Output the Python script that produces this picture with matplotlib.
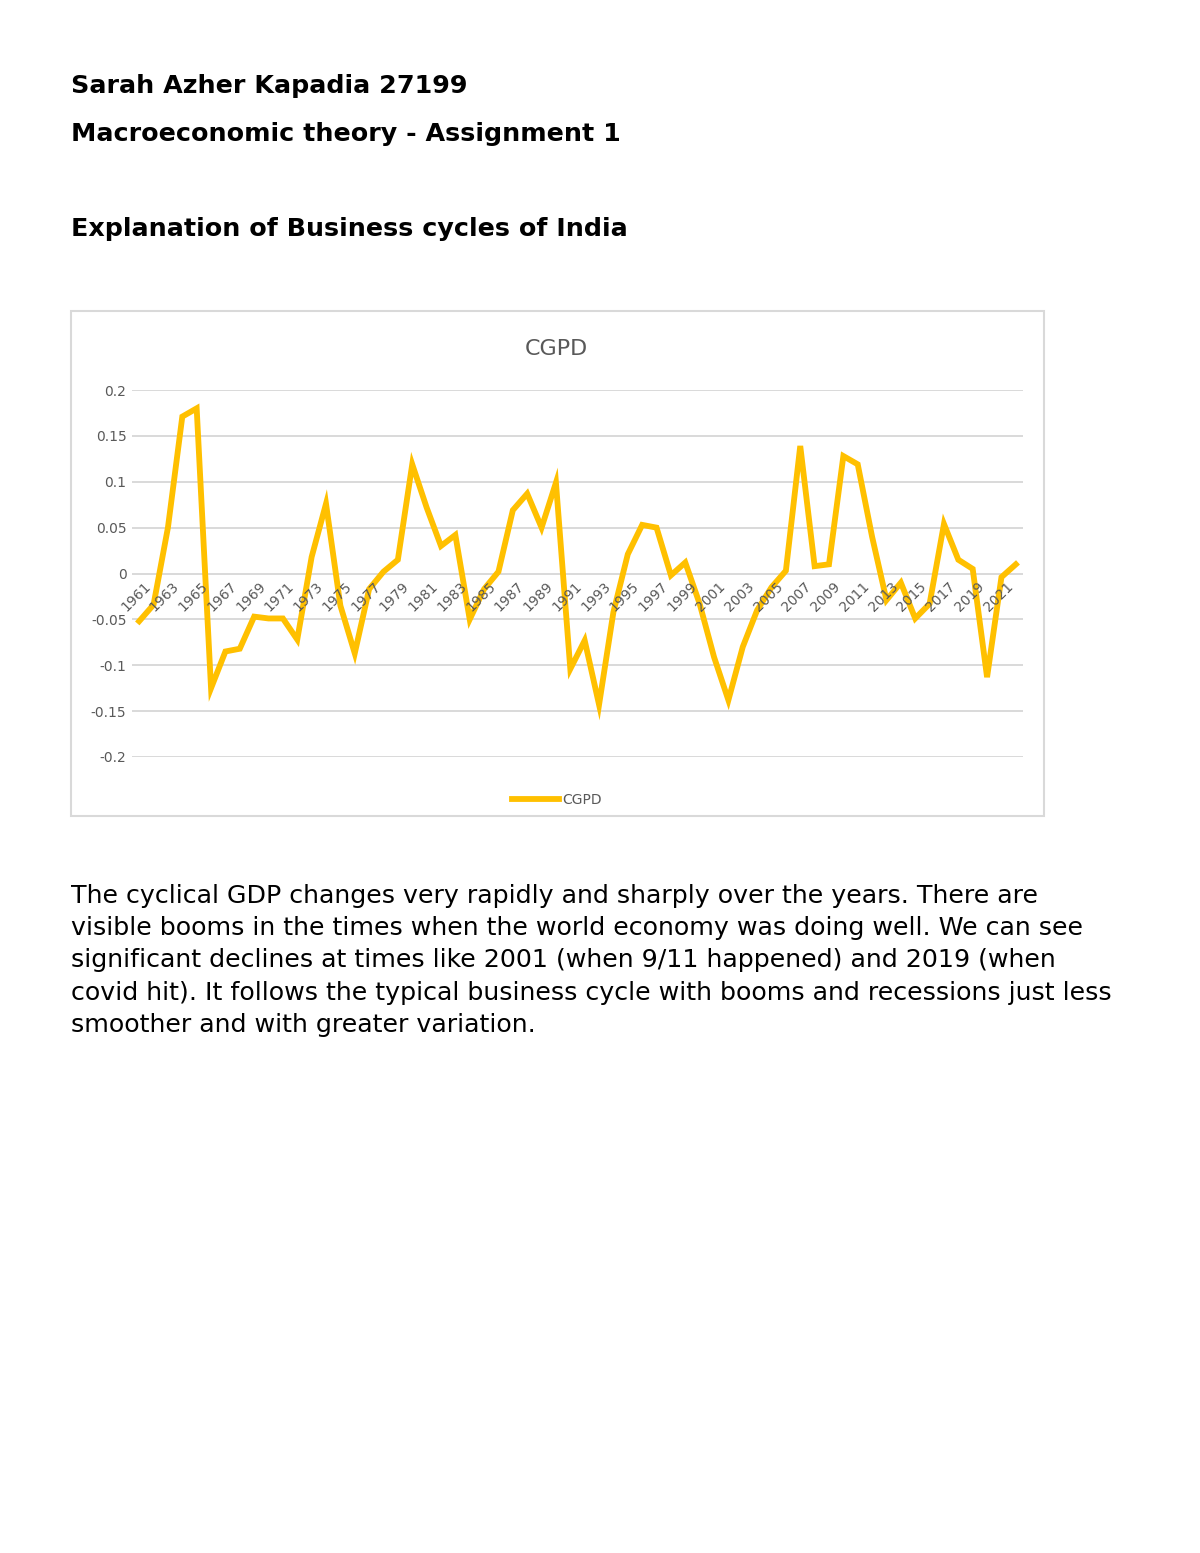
import matplotlib.pyplot as plt
from matplotlib.patches import Rectangle
from matplotlib.lines import Line2D

# cyclical GDP component
years = list(range(1961, 2023))
cgpd = [
    -0.052, -0.034, 0.050, 0.171, 0.180, -0.125, -0.085, -0.082, -0.047, -0.049,
    -0.049, -0.072, 0.018, 0.076, -0.035, -0.087, -0.017, 0.002, 0.015, 0.119,
    0.072, 0.030, 0.042, -0.050, -0.017, 0.002, 0.069, 0.087, 0.050, 0.099,
    -0.104, -0.073, -0.143, -0.042, 0.021, 0.053, 0.050, -0.002, 0.012, -0.033,
    -0.091, -0.138, -0.080, -0.040, -0.015, 0.003, 0.139, 0.008, 0.010, 0.128,
    0.119, 0.040, -0.029, -0.010, -0.049, -0.033, 0.054, 0.015, 0.005, -0.113,
    -0.004, 0.010,
]
yticks = [-0.2, -0.15, -0.1, -0.05, 0, 0.05, 0.1, 0.15, 0.2]
ytick_labels = ['-0.2', '-0.15', '-0.1', '-0.05', '0', '0.05', '0.1', '0.15', '0.2']

headers = [
    ('Sarah Azher Kapadia 27199', 86),
    ('Macroeconomic theory - Assignment 1', 134),
    ('Explanation of Business cycles of India', 229),
]
body = [
    'The cyclical GDP changes very rapidly and sharply over the years. There are',
    'visible booms in the times when the world economy was doing well. We can see',
    'significant declines at times like 2001 (when 9/11 happened) and 2019 (when',
    'covid hit). It follows the typical business cycle with booms and recessions just less',
    'smoother and with greater variation.',
]

W, H = 1200, 1553
GRAY = '#595959'
GOLD = '#FFC000'


def fx(px):
    return px / W


def fy(py):
    return 1 - py / H


fig = plt.figure(figsize=(12, 15.53), dpi=100)

for txt, py in headers:
    fig.text(fx(71), fy(py), txt, fontsize=18.3, fontweight='bold', va='center', ha='left')

for i, line in enumerate(body):
    fig.text(fx(71), fy(896 + i * 32.2), line, fontsize=18.2, va='center', ha='left')

# chart frame
fig.add_artist(Rectangle((fx(71), fy(816)), (1044 - 71) / W, (816 - 311) / H,
                         transform=fig.transFigure, fill=False, edgecolor='#d9d9d9', lw=1.5))

ax = fig.add_axes([fx(132), fy(757), (1023 - 132) / W, (757 - 390) / H])
ax.plot(years, cgpd, color=GOLD, lw=4.2, label='CGPD', clip_on=False, solid_joinstyle='miter')
ax.set_xlim(1960.5, 2022.5)
ax.set_ylim(-0.2, 0.2)
ax.set_yticks(yticks)
ax.set_yticklabels(ytick_labels, fontsize=10, color=GRAY)
ax.tick_params(axis='y', length=0, pad=4)
ax.set_xticks([])
ax.grid(axis='y', color='#d9d9d9', lw=1.4)
ax.set_axisbelow(True)
for s in ax.spines.values():
    s.set_visible(False)

# category labels sit next to the zero line, every second year
for yr in years[::2]:
    ax.annotate(str(yr), xy=(yr, 0), xytext=(3, -4), textcoords='offset points',
                rotation=45, rotation_mode='anchor', ha='right', va='top',
                fontsize=10, color=GRAY)

fig.text(fx(556), fy(349), 'CGPD', fontsize=16, color=GRAY, ha='center', va='center')

handle = Line2D([], [], color=GOLD, lw=4.2)
fig.legend([handle], ['CGPD'], loc='center', bbox_to_anchor=(fx(557), fy(800)),
           frameon=False, fontsize=10, labelcolor=GRAY, handlelength=3.4, handletextpad=0.2)

fig.savefig('out.png', dpi=100)
